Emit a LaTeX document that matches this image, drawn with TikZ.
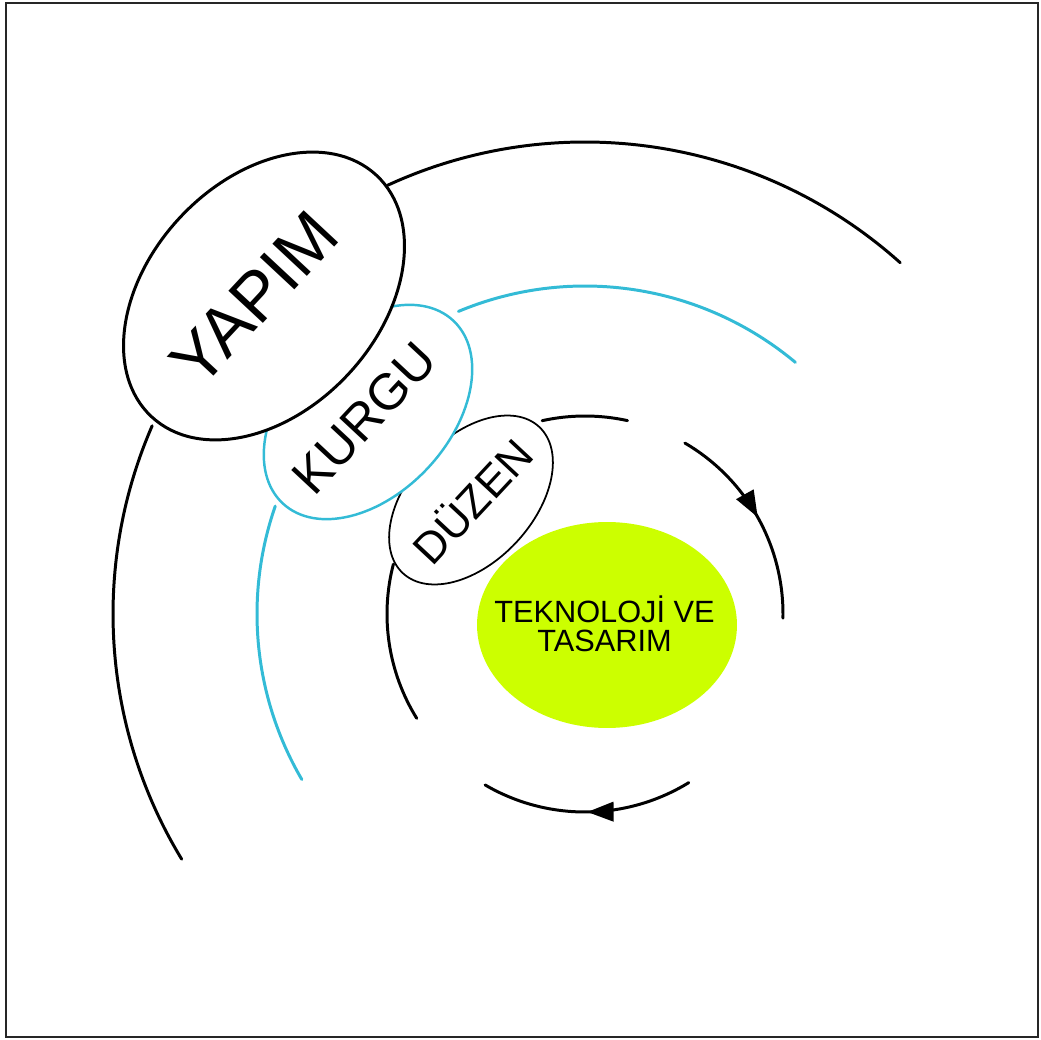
\documentclass[tikz,border=0pt]{standalone}
\usepackage{fontspec}
\setmainfont{Liberation Sans}
\usetikzlibrary{arrows.meta,shapes.geometric,decorations.markings}
\definecolor{ringcyan}{HTML}{33BBD6}
\definecolor{corelime}{HTML}{CCFF00}
\newcommand{\ringarc}[4]{\draw[#4] ([shift={(#1:#3)}]ctr) arc[start angle=#1,end angle=#2,radius=#3];}

\begin{document}
\begin{tikzpicture}[x=0.02cm,y=0.02cm,
  ring/.style={line width=1.7pt,line cap=round},
  flowarrow/.style={postaction={decorate},decoration={markings,mark=at position 0.5 with {\arrow{Triangle[length=15pt,width=11pt]}}}},
  bubble/.style={ellipse,draw,fill=white,inner sep=0pt,rotate=47},
  bubbletext/.style={rotate=47,inner sep=0pt}]
\useasboundingbox (0,0) rectangle (1041,1039);
\draw[line width=1.4pt,black!85] (6,2) rectangle (1038,1036);
\coordinate (ctr) at (585,425);

\ringarc{114.7}{48.1}{472}{ring}
\ringarc{156.5}{211.3}{472}{ring}
\ringarc{112.7}{50.1}{328}{ring,ringcyan}
\ringarc{160.8}{210.3}{328}{ring,ringcyan}
\ringarc{102.5}{77.6}{198}{ring}
\ringarc{59.7}{-1.2}{198}{ring,flowarrow}
\ringarc{-58.4}{-120.3}{198}{ring,flowarrow}
\ringarc{165.4}{211.8}{198}{ring}

\node[ellipse,fill=corelime,minimum width=5.2cm,minimum height=4.12cm,inner sep=0pt] (core) at (607,414) {};
\node[align=center,font=\fontsize{17.5}{16.8}\selectfont] (coretext) at ([xshift=-0.05cm,yshift=0.02cm]core.center) {TEKNOLOJİ VE\\TASARIM};
\node[bubble,line width=1pt,minimum width=4cm,minimum height=2.48cm] (duzen) at (471,539) {};
\node[bubbletext,font=\fontsize{25}{28}\selectfont] (duzentext) at (duzen.center) {DÜZEN};
\node[bubble,draw=ringcyan,line width=1.4pt,minimum width=5cm,minimum height=3.28cm] (kurgu) at (368,627) {};
\node[bubbletext,font=\fontsize{29}{32}\selectfont] (kurgutext) at ([xshift=-0.08cm,yshift=-0.12cm]kurgu.center) {KURGU};
\node[bubble,line width=1.7pt,minimum width=6.6cm,minimum height=4.6cm] (yapim) at (264,743) {};
\node[bubbletext,font=\fontsize{39}{42}\selectfont] (yapimtext) at ([xshift=-0.2cm,yshift=-0.05cm]yapim.center) {YAPIM};
\end{tikzpicture}
\end{document}
